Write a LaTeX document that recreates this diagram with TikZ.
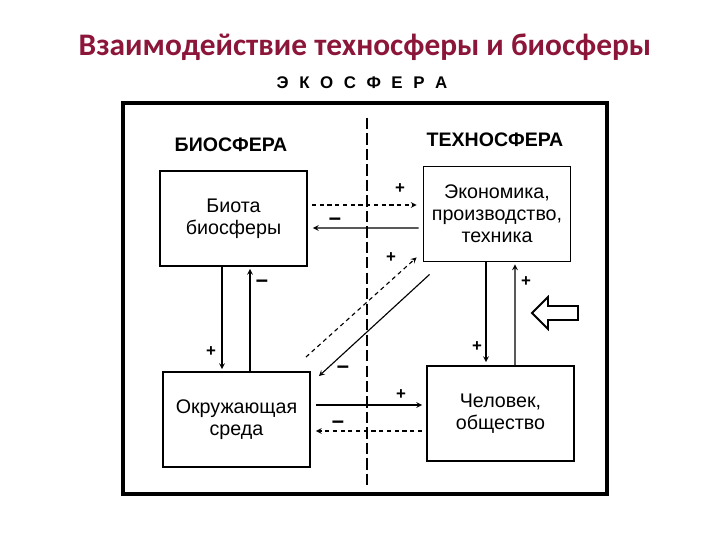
\documentclass[tikz,border=0pt]{standalone}
\usepackage{fontspec}
\setmainfont{Liberation Sans}
\newfontfamily\titlefont{Carlito}
\usetikzlibrary{calc,arrows}
\definecolor{titlered}{RGB}{140,22,58}
\tikzstyle{box} = [draw, line width=1.3pt, minimum width=3.675cm, minimum height=2.375cm, align=center, font=\fontsize{14}{15.5}\selectfont]
\tikzstyle{arrow} = [line width=0.8pt,->,>=stealth]
\tikzstyle{dasharrow} = [arrow, dash pattern=on 3pt off 2.5pt]
\tikzstyle{sign} = [font=\bfseries\fontsize{12}{12}\selectfont, inner sep=0pt]
\tikzstyle{head} = [font=\bfseries\fontsize{13.9}{15}\selectfont]
\newcommand{\minussign}{\scalebox{1.3}[1.4]{--}}

\begin{document}
\begin{tikzpicture}[x=0.025cm, y=-0.025cm]
\useasboundingbox (0,0) rectangle (720,540);

% Title and frame
\node (title) [font=\titlefont\bfseries\fontsize{22.3}{26}\selectfont, text=titlered] at (365,47) {Взаимодействие техносферы и биосферы};
\node (eco) [font=\bfseries\fontsize{12}{14}\selectfont] at (362,83) {Э\hspace{7.5pt}К\hspace{7.5pt}О\hspace{7.5pt}С\hspace{7.5pt}Ф\hspace{7.5pt}Е\hspace{7.5pt}Р\hspace{7.5pt}А};
\draw [line width=2.5pt] (123,103) rectangle (607,494); % ecosphere
\draw [line width=0.8pt, dash pattern=on 8pt off 3pt] (367,118) -- (367,487); % border

% Headings
\node (bio) [head] at (231,145) {БИОСФЕРА};
\node (techno) [head] at (495,140) {ТЕХНОСФЕРА};

% Boxes
\node (biota) [box] at (233.5,218.5) {Биота\\биосферы};
\node (econ) [box] at (497,214) {Экономика,\\производство,\\техника};
\node (env) [box] at (236.5,419.5) {Окружающая\\среда};
\node (person) [box] at (500.5,413.5) {Человек,\\общество};

% Horizontal links
\draw [dasharrow] ($(biota.east)+(4,-13.5)$) -- ($(econ.west)+(-6,-9)$);
\draw [arrow] ($(econ.west)+(-4,14)$) -- ($(biota.east)+(5,9.5)$);
\draw [arrow] ($(env.east)+(5,-14.5)$) -- ($(person.west)+(-4,-8.5)$);
\draw [dasharrow] ($(person.west)+(-4,17.5)$) -- ($(env.east)+(5,11.5)$);

% Vertical links
\draw [arrow] ($(biota.south)+(-11.5,0)$) -- ($(env.north)+(-14.5,-2)$);
\draw [arrow] ($(env.north)+(13.5,0)$) -- ($(biota.south)+(16.5,2)$);
\draw [arrow] ($(econ.south)+(-11,0)$) -- ($(person.north)+(-14.5,-3)$);
\draw [arrow] ($(person.north)+(14.5,0)$) -- ($(econ.south)+(18,2)$);

% Diagonal links
\draw [dasharrow] ($(env.north east)+(-5,-14)$) -- ($(econ.south west)+(-6,-5)$);
\draw [arrow] ($(econ.south west)+(7,12)$) -- ($(env.north east)+(8,5)$);

% Signs
\node (s1) [sign] at (400,189) {+};
\node (s2) [sign] at (335,222) {\minussign};
\node (s3) [sign] at (211,352) {+};
\node (s4) [sign] at (262,284) {\minussign};
\node (s5) [sign] at (477,347) {+};
\node (s6) [sign] at (526,282) {+};
\node (s7) [sign] at (391,258) {+};
\node (s8) [sign] at (343,370) {\minussign};
\node (s9) [sign] at (401,395) {+};
\node (s10) [sign] at (338,425) {\minussign};

% Hollow arrow
\draw [line width=1.3pt, line join=miter] (532,313) -- (548,297) -- (548,306) -- (578,306) -- (578,320) -- (548,320) -- (548,329) -- cycle;

\end{tikzpicture}
\end{document}
